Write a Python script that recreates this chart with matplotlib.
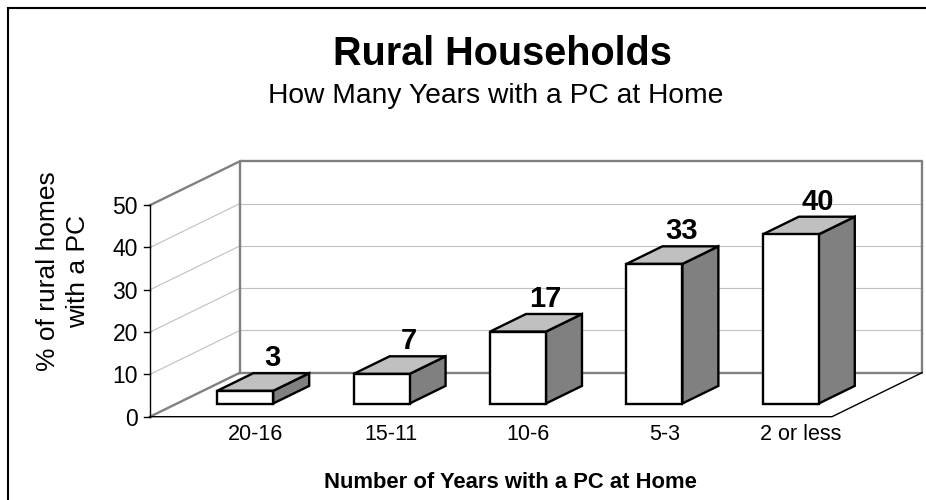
import matplotlib
matplotlib.use("Agg")
import matplotlib.pyplot as plt
from matplotlib.patches import Polygon, Rectangle

plt.rcParams['font.family'] = ['Liberation Sans', 'DejaVu Sans']

# ---- data ----
categories = ["20-16", "15-11", "10-6", "5-3", "2 or less"]
values = [3, 7, 17, 33, 40]
yticks = [0, 10, 20, 30, 40, 50]
title = "Rural Households"
subtitle = "How Many Years with a PC at Home"
xlabel = "Number of Years with a PC at Home"
ylabel = "% of rural homes\nwith a PC"

# ---- geometry (oblique projection in data units) ----
W, H = 926, 500
n = len(categories)
ymax = 50
DX, DY = 0.66, 10.4          # full-depth offset (category units, value units)
D0, D1 = 0.30, 0.70          # bar depth span
BAR_W = 0.41
PX_X, PX_Y = 136.4, 4.23     # pixels per unit
X0PX, Y0PX = 150, 416.7      # pixel position of origin (from top)

fig = plt.figure(figsize=(W / 100, H / 100), dpi=100)
ax = fig.add_axes([0, 0, 1, 1])
ax.set_xlim(-X0PX / PX_X, (W - X0PX) / PX_X)
ax.set_ylim(-(H - Y0PX) / PX_Y, Y0PX / PX_Y)
ax.axis('off')

gray = '#808080'
grid = '#c0c0c0'

# gridlines: back wall & left wall
for v in yticks[1:-1]:
    ax.plot([DX, n + DX], [v + DY, v + DY], color=grid, lw=0.8, zorder=1)
    ax.plot([0, DX], [v, v + DY], color=grid, lw=0.8, zorder=1)

# walls outline
wall_lw = 1.7
ax.plot([DX, n + DX, n + DX, DX, DX], [DY, DY, ymax + DY, ymax + DY, DY],
        color=gray, lw=wall_lw, zorder=2)
ax.plot([0, DX], [ymax, ymax + DY], color=gray, lw=wall_lw, zorder=2)
ax.plot([0, DX], [0, DY], color=gray, lw=wall_lw, zorder=2)

# floor front & right edges
ax.plot([0, n, n + DX], [0, 0, DY], color='black', lw=1.0, zorder=2)

# front y-axis and ticks
ax.plot([0, 0], [0, ymax], color='black', lw=1.0, zorder=3)
tick_len = 6 / PX_X
for v in yticks:
    ax.plot([-tick_len, 0], [v, v], color='black', lw=1.0, zorder=3)
    ax.text(-12 / PX_X, v, str(v), ha='right', va='center_baseline',
            fontsize=16.5, zorder=3)

# bars
edge = dict(edgecolor='black', linewidth=1.7, joinstyle='miter')
for i, (c, v) in enumerate(zip(categories, values)):
    xl = i + (1 - BAR_W) / 2 + D0 * DX
    xr = xl + BAR_W
    yb = D0 * DY
    yt = v + D0 * DY
    ddx = (D1 - D0) * DX
    ddy = (D1 - D0) * DY
    front = [(xl, yb), (xr, yb), (xr, yt), (xl, yt)]
    top = [(xl, yt), (xr, yt), (xr + ddx, yt + ddy), (xl + ddx, yt + ddy)]
    side = [(xr, yb), (xr + ddx, yb + ddy), (xr + ddx, yt + ddy), (xr, yt)]
    ax.add_patch(Polygon(side, closed=True, facecolor='#808080', zorder=5, **edge))
    ax.add_patch(Polygon(top, closed=True, facecolor='#c0c0c0', zorder=5, **edge))
    ax.add_patch(Polygon(front, closed=True, facecolor='white', zorder=5, **edge))
    # value label
    ax.text(i + 0.5 + 0.6 * DX, v + D1 * DY + 4.3, str(v), ha='center',
            va='center_baseline', fontsize=21, fontweight='bold', zorder=6)
    # category label
    ax.text(i + 0.5 + 0.27, -5.5, c, ha='center', va='baseline',
            fontsize=15.5, zorder=3)

# titles
fig.text(502 / W, (H - 65) / H, title, ha='center', va='baseline',
         fontsize=28.5, fontweight='bold')
fig.text(496 / W, (H - 103) / H, subtitle, ha='center', va='baseline',
         fontsize=20.3)
fig.text(510 / W, (H - 488) / H, xlabel, ha='center', va='baseline',
         fontsize=15.8, fontweight='bold')
fig.text(63 / W, (H - 271) / H, ylabel, ha='center', va='center',
         rotation=90, multialignment='center', fontsize=19, linespacing=1.35)

# chart border
fig.patches.append(Rectangle((8 / W, -0.1), 2.0, (H - 8) / H + 0.1,
                             transform=fig.transFigure, fill=False,
                             edgecolor='black', linewidth=1.5))

fig.savefig('out.png', dpi=100)
